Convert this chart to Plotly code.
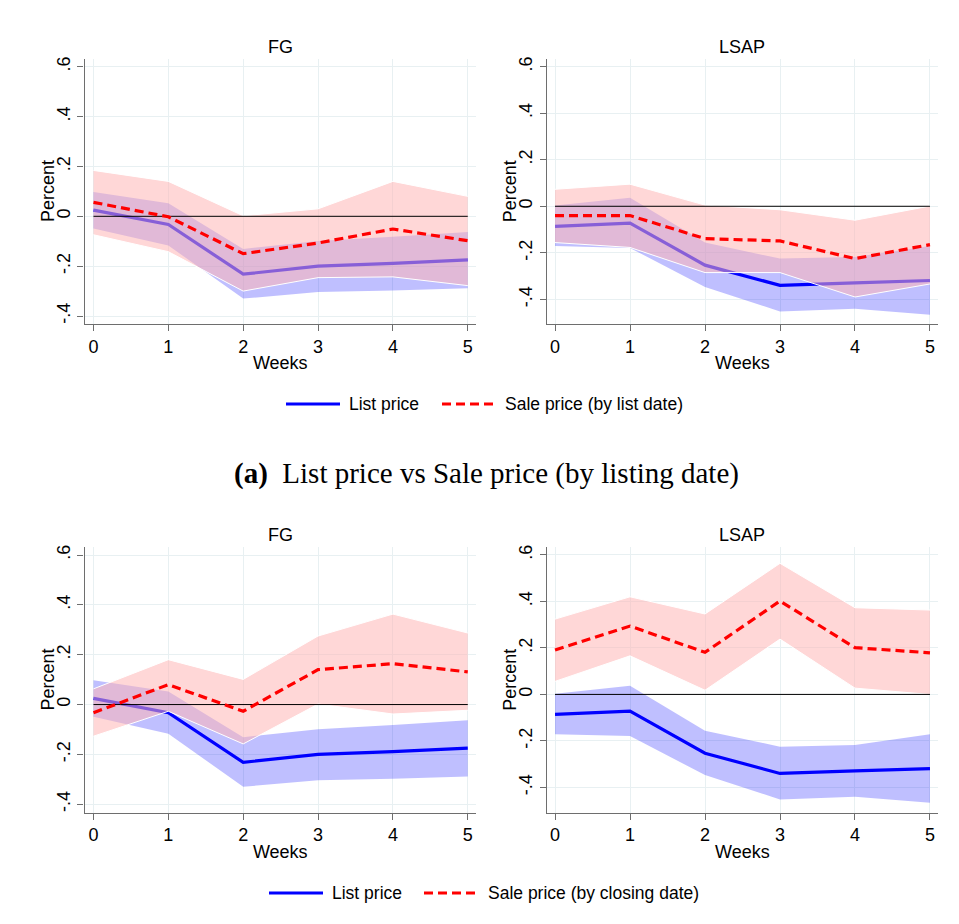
import plotly.graph_objects as go

# The page body has an 8px margin, so the figure is placed at (8, 8) in the window.
OFF = 8
W, H = 959 - OFF, 924 - OFF

weeks = [0, 1, 2, 3, 4, 5]
y_tickvals = [-0.4, -0.2, 0, 0.2, 0.4, 0.6]
y_ticktext = ["-.4", "-.2", "0", ".2", ".4", ".6"]

# List price (same in both rows)
fg_list = [0.025, -0.033, -0.232, -0.200, -0.189, -0.175]
fg_list_hi = [0.097, 0.052, -0.131, -0.099, -0.082, -0.063]
fg_list_lo = [-0.049, -0.117, -0.330, -0.304, -0.298, -0.289]

lsap_list = [-0.086, -0.072, -0.253, -0.340, -0.329, -0.319]
lsap_list_hi = [0.003, 0.037, -0.156, -0.225, -0.218, -0.171]
lsap_list_lo = [-0.171, -0.179, -0.347, -0.452, -0.440, -0.466]

# Sale price by list date (panel a)
fg_sale_ld = [0.056, -0.002, -0.150, -0.107, -0.051, -0.098]
fg_sale_ld_hi = [0.184, 0.140, 0.002, 0.030, 0.140, 0.080]
fg_sale_ld_lo = [-0.074, -0.142, -0.300, -0.246, -0.243, -0.278]

lsap_sale_ld = [-0.040, -0.040, -0.139, -0.149, -0.225, -0.165]
lsap_sale_ld_hi = [0.073, 0.095, 0.005, -0.015, -0.060, 0.001]
lsap_sale_ld_lo = [-0.156, -0.177, -0.285, -0.285, -0.390, -0.334]

# Sale price by closing date (panel b)
fg_sale_cd = [-0.033, 0.080, -0.027, 0.140, 0.164, 0.131]
fg_sale_cd_hi = [0.063, 0.180, 0.101, 0.275, 0.363, 0.287]
fg_sale_cd_lo = [-0.127, -0.027, -0.158, 0.002, -0.038, -0.023]

lsap_sale_cd = [0.191, 0.294, 0.181, 0.402, 0.201, 0.179]
lsap_sale_cd_hi = [0.324, 0.420, 0.346, 0.564, 0.373, 0.363]
lsap_sale_cd_lo = [0.056, 0.166, 0.018, 0.238, 0.027, 0.000]

panel_titles = ["FG", "LSAP", "FG", "LSAP"]
x_title = "Weeks"
y_title = "Percent"
legend_a = ["List price", "Sale price (by list date)"]
legend_b = ["List price", "Sale price (by closing date)"]
caption_a = "<b>(a)</b>  List price vs Sale price (by listing date)"

BLUE = "#0000FF"
RED = "#FF0000"
BLUE_FILL = "rgba(0,0,255,0.25)"
PINK_FILL = "rgba(255,180,180,0.53)"
GRID = "#E8F0F2"
AXIS = "#6E6E6E"
FONT = "Liberation Sans, Arial, sans-serif"


def px_x(p):
    return (p - OFF) / W


def px_y(p):
    return 1 - (p - OFF) / H


# plot-area boxes in window pixels: (left, right, top, bottom), axis ranges
panels = [
    dict(box=(84.5, 476, 59, 324), xr=[-0.12, 5.11], yr=[-0.432, 0.631],
         lst=(fg_list, fg_list_lo, fg_list_hi), sale=(fg_sale_ld, fg_sale_ld_lo, fg_sale_ld_hi)),
    dict(box=(546.7, 938, 59, 324), xr=[-0.111, 5.107], yr=[-0.506, 0.633],
         lst=(lsap_list, lsap_list_lo, lsap_list_hi), sale=(lsap_sale_ld, lsap_sale_ld_lo, lsap_sale_ld_hi)),
    dict(box=(84.5, 476, 547.3, 812.7), xr=[-0.12, 5.11], yr=[-0.434, 0.631],
         lst=(fg_list, fg_list_lo, fg_list_hi), sale=(fg_sale_cd, fg_sale_cd_lo, fg_sale_cd_hi)),
    dict(box=(546.7, 938, 547.3, 812.7), xr=[-0.111, 5.107], yr=[-0.509, 0.633],
         lst=(lsap_list, lsap_list_lo, lsap_list_hi), sale=(lsap_sale_cd, lsap_sale_cd_lo, lsap_sale_cd_hi)),
]

fig = go.Figure()
layout = {}
annotations = []

for i, p in enumerate(panels):
    n = "" if i == 0 else str(i + 1)
    xa, ya = "x" + n, "y" + n
    l, r, t, b = p["box"]
    layout["xaxis" + n] = dict(
        domain=[px_x(l), px_x(r)], range=p["xr"], anchor=ya, automargin=False,
        tickvals=weeks, ticktext=[str(w) for w in weeks],
        showgrid=True, gridcolor=GRID, gridwidth=1, zeroline=False,
        showline=True, linecolor=AXIS, linewidth=1.3,
        ticks="outside", ticklen=6, tickcolor=AXIS, tickwidth=1.3,
        tickfont=dict(size=18, color="#000", family=FONT),
        title=dict(text=x_title, font=dict(size=18, color="#000", family=FONT), standoff=0),
    )
    layout["yaxis" + n] = dict(
        domain=[px_y(b), px_y(t)], range=p["yr"], anchor=xa, automargin=False,
        tickvals=y_tickvals, ticktext=y_ticktext, tickangle=-90,
        showgrid=True, gridcolor=GRID, gridwidth=1, zeroline=False,
        showline=True, linecolor=AXIS, linewidth=1.3,
        ticks="outside", ticklen=6, tickcolor=AXIS, tickwidth=1.3,
        tickfont=dict(size=18, color="#000", family=FONT),
    )
    m, lo, hi = p["lst"]
    fig.add_trace(go.Scatter(x=weeks, y=lo, xaxis=xa, yaxis=ya, mode="lines",
                             line=dict(width=0), showlegend=False, hoverinfo="skip"))
    fig.add_trace(go.Scatter(x=weeks, y=hi, xaxis=xa, yaxis=ya, mode="lines", fill="tonexty",
                             fillcolor=BLUE_FILL, line=dict(width=0), showlegend=False, hoverinfo="skip"))
    fig.add_trace(go.Scatter(x=weeks, y=m, xaxis=xa, yaxis=ya, mode="lines",
                             line=dict(color=BLUE, width=3.2), showlegend=False))
    s, slo, shi = p["sale"]
    fig.add_trace(go.Scatter(x=weeks, y=slo, xaxis=xa, yaxis=ya, mode="lines",
                             line=dict(color="white", width=1), showlegend=False, hoverinfo="skip"))
    fig.add_trace(go.Scatter(x=weeks, y=shi, xaxis=xa, yaxis=ya, mode="lines", fill="tonexty",
                             fillcolor=PINK_FILL, line=dict(color="white", width=1),
                             showlegend=False, hoverinfo="skip"))
    fig.add_trace(go.Scatter(x=[weeks[0], weeks[-1]], y=[0, 0], xaxis=xa, yaxis=ya, mode="lines",
                             line=dict(color="#000", width=1), showlegend=False, hoverinfo="skip"))
    fig.add_trace(go.Scatter(x=weeks, y=s, xaxis=xa, yaxis=ya, mode="lines",
                             line=dict(color=RED, width=3.2, dash="9px,5px"), showlegend=False))
    # panel title
    annotations.append(dict(text=panel_titles[i], x=px_x((l + r) / 2), y=px_y(t - 12),
                            xref="paper", yref="paper", showarrow=False, xanchor="center",
                            yanchor="middle", font=dict(size=18, color="#000", family=FONT)))
    # y-axis title
    annotations.append(dict(text=y_title, x=px_x(l - 37), y=px_y((t + b) / 2),
                            xref="paper", yref="paper", showarrow=False, textangle=-90,
                            xanchor="center", yanchor="middle",
                            font=dict(size=18, color="#000", family=FONT)))

shapes = []


def legend_row(yp, items):
    for (x0, x1, color, dash, tx, label) in items:
        shapes.append(dict(type="line", xref="paper", yref="paper",
                           x0=px_x(x0), x1=px_x(x1), y0=px_y(yp), y1=px_y(yp),
                           line=dict(color=color, width=3.2, dash=dash)))
        annotations.append(dict(text=label, x=px_x(tx), y=px_y(yp), xref="paper", yref="paper",
                                showarrow=False, xanchor="left", yanchor="middle",
                                font=dict(size=17.5, color="#000", family=FONT)))


legend_row(404, [(286, 340, BLUE, "solid", 347, legend_a[0]),
                 (442, 496, RED, "9px,5px", 503, legend_a[1])])
legend_row(893, [(269, 323, BLUE, "solid", 330, legend_b[0]),
                 (424, 478, RED, "9px,5px", 486, legend_b[1])])

annotations.append(dict(text=caption_a, x=px_x(486.5), y=px_y(473), xref="paper", yref="paper",
                        showarrow=False, xanchor="center", yanchor="middle",
                        font=dict(size=29, color="#000", family="Liberation Serif, Times New Roman, serif")))

fig.update_layout(
    width=W, height=H, margin=dict(l=0, r=0, t=0, b=0, autoexpand=False),
    paper_bgcolor="white", plot_bgcolor="white",
    annotations=annotations, shapes=shapes, showlegend=False,
    **layout,
)

fig.write_html("out.html")
